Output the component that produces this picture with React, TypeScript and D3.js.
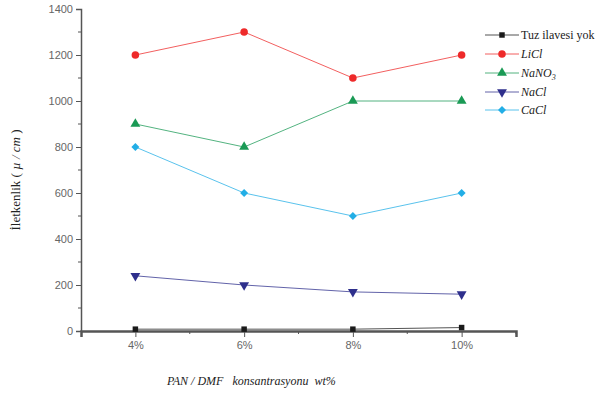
import React from "react";
import * as d3 from "d3";

const concentrations = [4, 6, 8, 10];
const xTickLabels = ["4%", "6%", "8%", "10%"];
const yTicks = [0, 200, 400, 600, 800, 1000, 1200, 1400];

const tuzValues = [8, 8, 8, 15];
const liclValues = [1200, 1300, 1100, 1200];
const nano3Values = [900, 800, 1000, 1000];
const naclValues = [240, 200, 170, 160];
const caclValues = [800, 600, 500, 600];

const seriesNames = ["Tuz ilavesi yok", "LiCl", "NaNO3", "NaCl", "CaCl"];
const seriesColors = ["#1a1a1a", "#ee2a2a", "#1a9a55", "#2e2f8c", "#22aee6"];

const serif = "'Liberation Serif', 'DejaVu Serif', serif";
const sans = "'Liberation Sans', Arial, sans-serif";

export default function App() {
  const svgRef = React.useRef<SVGSVGElement | null>(null);
  const width = 612;
  const height = 394;

  React.useEffect(() => {
    const svg = d3.select(svgRef.current);
    svg.selectAll("*").remove();

    const x = d3.scaleLinear().domain([3, 11]).range([81, 516]);
    const y = d3.scaleLinear().domain([0, 1400]).range([331, 9]);
    const axisColor = "#555";

    const dataset = [tuzValues, liclValues, nano3Values, naclValues, caclValues].map((vals, i) => ({
      name: seriesNames[i],
      color: seriesColors[i],
      value: vals.map((v, j) => ({ c: concentrations[j], v })),
    }));

    // diamond = rotated square
    const symbols = [d3.symbolSquare, d3.symbolCircle, d3.symbolTriangle, d3.symbolTriangle, d3.symbolSquare];
    const sizes = [30, 45, 42, 42, 32];
    const rotations = [0, 0, 0, 180, 45];

    // axes
    const yAxis = d3.axisLeft(y).tickValues(yTicks).tickSize(5).tickPadding(3).tickFormat(d3.format("d"));
    const gy = svg.append("g").attr("transform", "translate(81,0)").call(yAxis);
    gy.selectAll("text").attr("fill", "#666").style("font-family", sans).style("font-size", "11px");
    gy.selectAll("line").attr("stroke", axisColor);
    gy.select(".domain").attr("stroke", axisColor).attr("stroke-width", 1.5);
    d3.range(100, 1400, 200).forEach((t) => {
      gy.append("line").attr("x1", 0).attr("x2", -3).attr("y1", y(t)).attr("y2", y(t)).attr("stroke", axisColor);
    });

    const xAxis = d3.axisBottom(x).tickValues(concentrations).tickSize(6).tickPadding(4)
      .tickFormat((d, i) => xTickLabels[i]);
    const gx = svg.append("g").attr("transform", "translate(0,331)").call(xAxis);
    gx.select(".domain").attr("stroke", axisColor).attr("stroke-width", 2.5);
    gx.selectAll("line").attr("stroke", axisColor);
    gx.selectAll("text").attr("fill", "#666").style("font-family", sans).style("font-size", "11px");
    [5, 7, 9, 11].forEach((t) => {
      gx.append("line").attr("x1", x(t)).attr("x2", x(t)).attr("y1", 0).attr("y2", 3).attr("stroke", axisColor);
    });

    // lines and markers
    const line = d3.line<{ c: number; v: number }>().x((d) => x(d.c)).y((d) => y(d.v));
    dataset.forEach((s, i) => {
      svg.append("path").attr("d", line(s.value)).attr("fill", "none").attr("stroke", s.color)
        .attr("stroke-width", 1).attr("opacity", 0.75);
      s.value.forEach((d) => {
        svg.append("path")
          .attr("d", d3.symbol(symbols[i], sizes[i])())
          .attr("transform", `translate(${x(d.c)},${y(d.v)}) rotate(${rotations[i]})`)
          .attr("fill", s.color);
      });
    });

    // legend
    const legendY = [35, 54, 73, 92, 110];
    dataset.forEach((s, i) => {
      const ly = legendY[i];
      svg.append("line").attr("x1", 485).attr("x2", 519).attr("y1", ly).attr("y2", ly)
        .attr("stroke", s.color).attr("stroke-width", 1).attr("opacity", 0.75);
      svg.append("path").attr("d", d3.symbol(symbols[i], sizes[i])())
        .attr("transform", `translate(502,${ly}) rotate(${rotations[i]})`).attr("fill", s.color);
      const t = svg.append("text").attr("x", 521).attr("y", ly + 4)
        .style("font-family", serif).style("font-size", "12px").attr("fill", "#222");
      if (i === 0) {
        t.text(s.name);
      } else if (s.name === "NaNO3") {
        t.style("font-style", "italic").text("NaNO");
        t.append("tspan").attr("font-size", "8px").attr("dy", 3).text("3");
      } else {
        t.style("font-style", "italic").text(s.name);
      }
    });

    // axis titles
    const yl = svg.append("text").attr("transform", "translate(20,180) rotate(-90)").attr("text-anchor", "middle")
      .style("font-family", serif).style("font-size", "13px").attr("fill", "#222");
    yl.append("tspan").text("İletkenlik ( ");
    yl.append("tspan").style("font-style", "italic").text("µ / cm");
    yl.append("tspan").text(" )");

    svg.append("text").attr("x", 167).attr("y", 385)
      .style("font-family", serif).style("font-size", "12px")
      .style("font-style", "italic").attr("fill", "#222").attr("xml:space", "preserve")
      .text("PAN / DMF   konsantrasyonu  wt%");
  }, []);

  return (
    <svg ref={svgRef} width={width} height={height}
      style={{ position: "absolute", left: 0, top: 0, background: "#fff" }} />
  );
}
